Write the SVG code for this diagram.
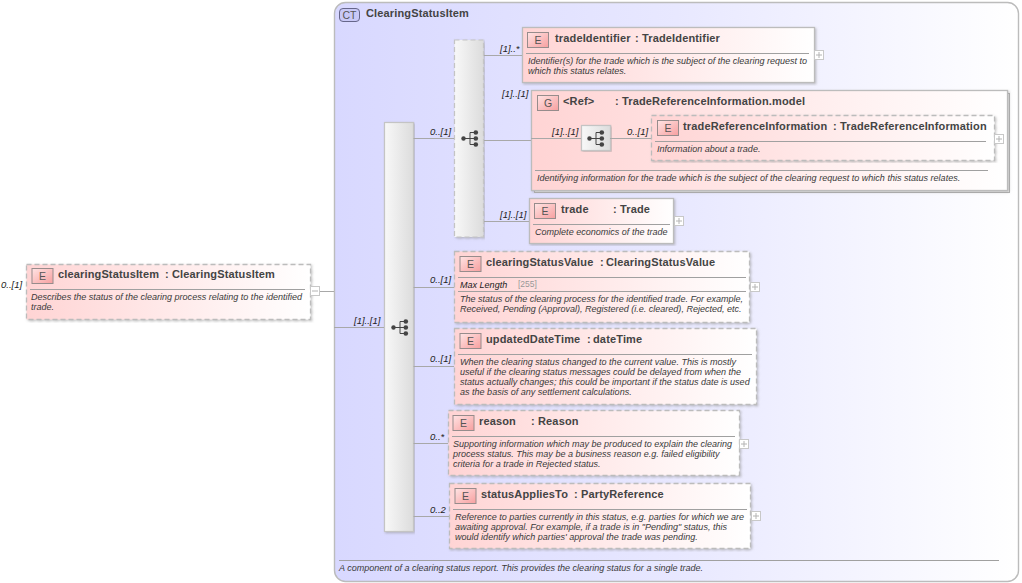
<svg xmlns="http://www.w3.org/2000/svg" width="1022" height="583" viewBox="0 0 1022 583">
<style>
text{font-family:"Liberation Sans",Arial,sans-serif;fill:#3a3a3a}
.t{font-size:11px;font-weight:bold;letter-spacing:.15px;fill:#444}
.d{font-size:9.040px;font-style:italic}
.m{font-size:9.5px;font-style:italic;fill:#222}
.i{font-size:10.500px;text-anchor:middle;fill:#555}
.box{fill:url(#pink);stroke:#bcbcbc;stroke-width:1.300;filter:url(#sh)}
.dash{stroke-dasharray:5 3}
.ic{fill:url(#ico);stroke:#968c8c;stroke-width:1}
.ln{fill:none;stroke:#a8a8a8;stroke-width:1}
.sep{stroke:#a0a0a0;stroke-width:1}
.seq{fill:url(#bar);stroke:#c4c4c4;stroke-width:1.200;filter:url(#sh)}
.pl{fill:#fff;stroke:#c8c8c8;stroke-width:1}
.plm{stroke:#b4b4b4;stroke-width:1}
</style>
<defs>
<linearGradient id="pink"><stop offset="0" stop-color="#ffd4d4"/><stop offset="1" stop-color="#fff"/></linearGradient>
<linearGradient id="ct"><stop offset="0" stop-color="#d8d8ff"/><stop offset=".5" stop-color="#e8e8ff"/><stop offset="1" stop-color="#fff"/></linearGradient>
<linearGradient id="ico" x2="1" y2="1"><stop offset="0" stop-color="#ffe4e4"/><stop offset="1" stop-color="#f79f9f"/></linearGradient>
<linearGradient id="bar"><stop offset="0" stop-color="#f8f8f8"/><stop offset="1" stop-color="#dcdcdc"/></linearGradient>
<filter id="sh" x="-5%" y="-5%" width="110%" height="110%"><feDropShadow dx="1.200" dy="1.200" stdDeviation=".8" flood-color="#888" flood-opacity=".5"/></filter>
<g id="si"><circle cx="0" cy="0" r="2.200" fill="#444"/><path d="M0 0H12M6.500 -6V6M6.500 -6H12M6.500 6H12" fill="none" stroke="#444" stroke-width="1"/><circle cx="12.300" cy="-6" r="2.300" fill="#444"/><circle cx="12.300" cy="0" r="2.300" fill="#444"/><circle cx="12.300" cy="6" r="2.300" fill="#444"/></g>
<g id="plus"><rect x=".5" y=".5" width="9" height="9" class="pl"/><path d="M2 5H8M5 2V8" class="plm"/></g>
<g id="e"><rect x=".5" y=".5" width="21" height="15" class="ic"/><text x="11" y="12" class="i">E</text></g>
</defs>
<rect width="1022" height="583" fill="#fff"/>
<g id="node-ClearingStatusItem-type">
<rect x="334.500" y="2.500" width="684" height="579" rx="11" fill="url(#ct)" stroke="#bcbcbc" stroke-width="1.400"/>
<rect x="339.500" y="8.500" width="20" height="13" rx="3.500" fill="#c9c9f7" stroke="#66668a"/>
<text x="349.500" y="19" class="i">CT</text>
<text x="366" y="17" class="t">ClearingStatusItem</text>
<line x1="339" y1="560.500" x2="999" y2="560.500" class="sep"/>
<text x="339" y="571" class="d">A component of a clearing status report. This provides the clearing status for a single trade.</text>
</g>
<g id="node-clearingStatusItem">
<rect x="26.500" y="264.500" width="284" height="55" class="box dash"/>
<use href="#e" x="31.500" y="268"/>
<text y="278" class="t"><tspan x="58">clearingStatusItem</tspan><tspan x="165">:</tspan><tspan x="172">ClearingStatusItem</tspan></text>
<line x1="30" y1="289.500" x2="305" y2="289.500" class="sep"/>
<text x="31" y="300" class="d">Describes the status of the clearing process relating to the identified</text>
<text x="31" y="310" class="d">trade.</text>
<rect x="310.500" y="286.500" width="9" height="9" class="pl"/><path d="M312 291H318" class="plm"/>
</g>
<g id="node-sequence-main">
<rect x="384.500" y="122.500" width="29" height="409" class="seq"/>
<use href="#si" x="393.500" y="327.500"/>
</g>
<g id="node-sequence-inner">
<rect x="454.500" y="40" width="29" height="197" class="seq dash"/>
<use href="#si" x="463.500" y="138.500"/>
</g>
<g id="node-tradeIdentifier">
<rect x="522.500" y="27.500" width="292" height="55" class="box"/>
<use href="#e" x="527" y="32"/>
<text y="42" class="t"><tspan x="555">tradeIdentifier</tspan><tspan x="635">:</tspan><tspan x="642">TradeIdentifier</tspan></text>
<line x1="526" y1="53.500" x2="809" y2="53.500" class="sep"/>
<text x="528" y="64" class="d">Identifier(s) for the trade which is the subject of the clearing request to</text>
<text x="528" y="74" class="d">which this status relates.</text>
<use href="#plus" x="814" y="50"/>
</g>
<g id="node-TradeReferenceInformation-model">
<rect x="534.500" y="93.500" width="475" height="99" fill="#f4f4f4" stroke="#b4b4b4"/>
<rect x="531.500" y="90.500" width="476" height="100" class="box"/>
<rect x="537.500" y="95.500" width="21" height="15" class="ic"/><text x="548" y="107" class="i">G</text>
<text y="105" class="t"><tspan x="563">&lt;Ref&gt;</tspan><tspan x="615">:</tspan><tspan x="622">TradeReferenceInformation.model</tspan></text>
<line x1="535" y1="170.500" x2="988" y2="170.500" class="sep"/>
<text x="537" y="181" class="d">Identifying information for the trade which is the subject of the clearing request to which this status relates.</text>
</g>
<g id="node-sequence-ref">
<rect x="581.500" y="125.500" width="29" height="25" class="seq"/>
<use href="#si" x="589.500" y="138.500"/>
</g>
<g id="node-tradeReferenceInformation">
<rect x="651.500" y="115.500" width="343" height="45" class="box dash"/>
<use href="#e" x="657" y="120"/>
<text y="130" class="t"><tspan x="683">tradeReferenceInformation</tspan><tspan x="833">:</tspan><tspan x="840">TradeReferenceInformation</tspan></text>
<line x1="655" y1="141.500" x2="986" y2="141.500" class="sep"/>
<text x="657" y="152" class="d">Information about a trade.</text>
<use href="#plus" x="994" y="134"/>
</g>
<g id="node-trade">
<rect x="529.500" y="198.500" width="144" height="45" class="box"/>
<use href="#e" x="534" y="203"/>
<text y="213" class="t"><tspan x="561">trade</tspan><tspan x="613">:</tspan><tspan x="620">Trade</tspan></text>
<line x1="533" y1="224.500" x2="670" y2="224.500" class="sep"/>
<text x="535" y="235" class="d">Complete economics of the trade</text>
<use href="#plus" x="674" y="216"/>
</g>
<g id="node-clearingStatusValue">
<rect x="454.500" y="251.500" width="295" height="71" class="box dash"/>
<use href="#e" x="459.500" y="256"/>
<text y="266" class="t"><tspan x="486">clearingStatusValue</tspan><tspan x="600">:</tspan><tspan x="606">ClearingStatusValue</tspan></text>
<line x1="458" y1="277.500" x2="746" y2="277.500" class="sep"/>
<text x="460" y="288" class="d" style="fill:#222">Max Length</text>
<text x="518" y="287" style="font-size:8.500px;fill:#999">[255]</text>
<line x1="458" y1="291.500" x2="746" y2="291.500" class="sep"/>
<text x="460" y="302" class="d">The status of the clearing process for the identified trade. For example,</text>
<text x="460" y="312" class="d">Received, Pending (Approval), Registered (i.e. cleared), Rejected, etc.</text>
<use href="#plus" x="750" y="282"/>
</g>
<g id="node-updatedDateTime">
<rect x="454.500" y="328.500" width="302" height="76" class="box dash"/>
<use href="#e" x="459.500" y="333"/>
<text y="343" class="t"><tspan x="486">updatedDateTime</tspan><tspan x="587">:</tspan><tspan x="593">dateTime</tspan></text>
<line x1="458" y1="354.500" x2="752" y2="354.500" class="sep"/>
<text x="460" y="365" class="d">When the clearing status changed to the current value. This is mostly</text>
<text x="460" y="375" class="d">useful if the clearing status messages could be delayed from when the</text>
<text x="460" y="385" class="d">status actually changes; this could be important if the status date is used</text>
<text x="460" y="395" class="d">as the basis of any settlement calculations.</text>
</g>
<g id="node-reason">
<rect x="448.500" y="410.500" width="291" height="65" class="box dash"/>
<use href="#e" x="452.500" y="415"/>
<text y="425" class="t"><tspan x="479">reason</tspan><tspan x="531">:</tspan><tspan x="538">Reason</tspan></text>
<line x1="452" y1="436.500" x2="735" y2="436.500" class="sep"/>
<text x="453" y="447" class="d">Supporting information which may be produced to explain the clearing</text>
<text x="453" y="457" class="d">process status. This may be a business reason e.g. failed eligibility</text>
<text x="453" y="467" class="d">criteria for a trade in Rejected status.</text>
<use href="#plus" x="739" y="439"/>
</g>
<g id="node-statusAppliesTo">
<rect x="449.500" y="483.500" width="301" height="65" class="box dash"/>
<use href="#e" x="454.500" y="488"/>
<text y="498" class="t"><tspan x="481">statusAppliesTo</tspan><tspan x="574">:</tspan><tspan x="581">PartyReference</tspan></text>
<line x1="453" y1="509.500" x2="747" y2="509.500" class="sep"/>
<text x="455" y="520" class="d">Reference to parties currently in this status, e.g. parties for which we are</text>
<text x="455" y="530" class="d">awaiting approval. For example, if a trade is in "Pending" status, this</text>
<text x="455" y="540" class="d">would identify which parties' approval the trade was pending.</text>
<use href="#plus" x="751" y="511"/>
</g>
<g id="connectors">
<path class="ln" d="M320 291.500H334M334 327.500H384M413.500 138.500H454M484 55.500H522M484 140.500H531M484 221.500H529M531 138.500H581M610 138.500H651M413.500 287.500H454M413.500 366.500H454M413.500 443.500H448M413.500 516.500H449"/>
</g>
<g id="labels">
<text x="1" y="288" class="m">0..[1]</text>
<text x="354" y="324" class="m">[1]..[1]</text>
<text x="430" y="135" class="m">0..[1]</text>
<text x="500" y="52" class="m">[1]..*</text>
<text x="502" y="97" class="m">[1]..[1]</text>
<text x="552" y="135" class="m">[1]..[1]</text>
<text x="627" y="135" class="m">0..[1]</text>
<text x="500" y="218" class="m">[1]..[1]</text>
<text x="430" y="283" class="m">0..[1]</text>
<text x="430" y="362" class="m">0..[1]</text>
<text x="430" y="440" class="m">0..*</text>
<text x="430" y="513" class="m">0..2</text>
</g>
</svg>
